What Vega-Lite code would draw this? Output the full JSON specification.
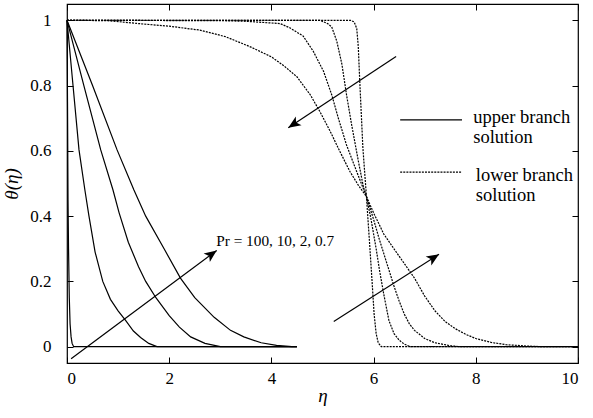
{
  "$schema": "https://vega.github.io/schema/vega-lite/v6.json",
  "width": 511,
  "height": 359,
  "autosize": {"type": "none"},
  "padding": {"left": 67, "top": 4, "right": 15, "bottom": 55},
  "background": "white",
  "config": {
    "view": {"stroke": "black", "strokeWidth": 1.2},
    "font": "Times New Roman, Liberation Serif, Times, serif",
    "axis": {
      "domain": false,
      "grid": false,
      "tickColor": "black",
      "tickSize": -6,
      "tickWidth": 1,
      "labelFont": "Times New Roman, Liberation Serif, Times, serif",
      "labelFontSize": 17,
      "labelColor": "black",
      "titleFont": "Times New Roman, Liberation Serif, Times, serif",
      "titleFontSize": 19,
      "titleFontWeight": "normal",
      "titleFontStyle": "italic",
      "titleColor": "black"
    }
  },
  "datasets": {
    "curves": [
      {"s":"u100","b":"upper","x":0,"y":1},{"s":"u100","b":"upper","x":0.01,"y":0.75},{"s":"u100","b":"upper","x":0.02,"y":0.45},{"s":"u100","b":"upper","x":0.03,"y":0.3},{"s":"u100","b":"upper","x":0.045,"y":0.15},{"s":"u100","b":"upper","x":0.06,"y":0.07},{"s":"u100","b":"upper","x":0.08,"y":0.03},{"s":"u100","b":"upper","x":0.1,"y":0.01},{"s":"u100","b":"upper","x":0.13,"y":0},{"s":"u100","b":"upper","x":4.5,"y":0},
      {"s":"u10","b":"upper","x":0,"y":1},{"s":"u10","b":"upper","x":0.1,"y":0.83},{"s":"u10","b":"upper","x":0.235,"y":0.603},{"s":"u10","b":"upper","x":0.35,"y":0.48},{"s":"u10","b":"upper","x":0.43,"y":0.4},{"s":"u10","b":"upper","x":0.55,"y":0.29},{"s":"u10","b":"upper","x":0.7,"y":0.2},{"s":"u10","b":"upper","x":0.85,"y":0.145},{"s":"u10","b":"upper","x":1.0,"y":0.11},{"s":"u10","b":"upper","x":1.15,"y":0.08},{"s":"u10","b":"upper","x":1.3,"y":0.048},{"s":"u10","b":"upper","x":1.44,"y":0.028},{"s":"u10","b":"upper","x":1.6,"y":0.01},{"s":"u10","b":"upper","x":1.76,"y":0},{"s":"u10","b":"upper","x":4.5,"y":0},
      {"s":"u2","b":"upper","x":0,"y":1},{"s":"u2","b":"upper","x":0.33,"y":0.8},{"s":"u2","b":"upper","x":0.66,"y":0.603},{"s":"u2","b":"upper","x":0.9,"y":0.48},{"s":"u2","b":"upper","x":1.02,"y":0.41},{"s":"u2","b":"upper","x":1.2,"y":0.32},{"s":"u2","b":"upper","x":1.4,"y":0.245},{"s":"u2","b":"upper","x":1.54,"y":0.2},{"s":"u2","b":"upper","x":1.74,"y":0.15},{"s":"u2","b":"upper","x":2.0,"y":0.095},{"s":"u2","b":"upper","x":2.2,"y":0.06},{"s":"u2","b":"upper","x":2.42,"y":0.03},{"s":"u2","b":"upper","x":2.7,"y":0.01},{"s":"u2","b":"upper","x":3.0,"y":0},{"s":"u2","b":"upper","x":4.5,"y":0},
      {"s":"u07","b":"upper","x":0,"y":1},{"s":"u07","b":"upper","x":0.5,"y":0.8},{"s":"u07","b":"upper","x":0.98,"y":0.603},{"s":"u07","b":"upper","x":1.31,"y":0.48},{"s":"u07","b":"upper","x":1.54,"y":0.4},{"s":"u07","b":"upper","x":1.9,"y":0.3},{"s":"u07","b":"upper","x":2.22,"y":0.21},{"s":"u07","b":"upper","x":2.5,"y":0.15},{"s":"u07","b":"upper","x":2.88,"y":0.09},{"s":"u07","b":"upper","x":3.2,"y":0.05},{"s":"u07","b":"upper","x":3.46,"y":0.03},{"s":"u07","b":"upper","x":3.8,"y":0.012},{"s":"u07","b":"upper","x":4.1,"y":0.004},{"s":"u07","b":"upper","x":4.4,"y":0},{"s":"u07","b":"upper","x":4.5,"y":0},
      {"s":"l100","b":"lower","x":0,"y":1},{"s":"l100","b":"lower","x":5.55,"y":1},{"s":"l100","b":"lower","x":5.62,"y":0.995},{"s":"l100","b":"lower","x":5.67,"y":0.975},{"s":"l100","b":"lower","x":5.7,"y":0.92},{"s":"l100","b":"lower","x":5.73,"y":0.81},{"s":"l100","b":"lower","x":5.79,"y":0.61},{"s":"l100","b":"lower","x":5.86,"y":0.46},{"s":"l100","b":"lower","x":5.92,"y":0.32},{"s":"l100","b":"lower","x":5.97,"y":0.2},{"s":"l100","b":"lower","x":6.01,"y":0.1},{"s":"l100","b":"lower","x":6.05,"y":0.04},{"s":"l100","b":"lower","x":6.09,"y":0.012},{"s":"l100","b":"lower","x":6.15,"y":0},{"s":"l100","b":"lower","x":10,"y":0},
      {"s":"l10","b":"lower","x":0,"y":1},{"s":"l10","b":"lower","x":4.95,"y":1},{"s":"l10","b":"lower","x":5.1,"y":0.99},{"s":"l10","b":"lower","x":5.18,"y":0.98},{"s":"l10","b":"lower","x":5.28,"y":0.936},{"s":"l10","b":"lower","x":5.38,"y":0.865},{"s":"l10","b":"lower","x":5.47,"y":0.772},{"s":"l10","b":"lower","x":5.57,"y":0.68},{"s":"l10","b":"lower","x":5.7,"y":0.57},{"s":"l10","b":"lower","x":5.8,"y":0.49},{"s":"l10","b":"lower","x":5.86,"y":0.46},{"s":"l10","b":"lower","x":5.95,"y":0.39},{"s":"l10","b":"lower","x":6.05,"y":0.3},{"s":"l10","b":"lower","x":6.12,"y":0.23},{"s":"l10","b":"lower","x":6.2,"y":0.16},{"s":"l10","b":"lower","x":6.3,"y":0.08},{"s":"l10","b":"lower","x":6.4,"y":0.04},{"s":"l10","b":"lower","x":6.5,"y":0.02},{"s":"l10","b":"lower","x":6.6,"y":0.008},{"s":"l10","b":"lower","x":6.72,"y":0},{"s":"l10","b":"lower","x":10,"y":0},
      {"s":"l2","b":"lower","x":0,"y":1},{"s":"l2","b":"lower","x":3.0,"y":0.999},{"s":"l2","b":"lower","x":3.5,"y":0.997},{"s":"l2","b":"lower","x":4.17,"y":0.99},{"s":"l2","b":"lower","x":4.36,"y":0.977},{"s":"l2","b":"lower","x":4.62,"y":0.952},{"s":"l2","b":"lower","x":4.82,"y":0.905},{"s":"l2","b":"lower","x":5.02,"y":0.844},{"s":"l2","b":"lower","x":5.18,"y":0.772},{"s":"l2","b":"lower","x":5.31,"y":0.7},{"s":"l2","b":"lower","x":5.47,"y":0.618},{"s":"l2","b":"lower","x":5.67,"y":0.536},{"s":"l2","b":"lower","x":5.86,"y":0.46},{"s":"l2","b":"lower","x":6.0,"y":0.39},{"s":"l2","b":"lower","x":6.1,"y":0.335},{"s":"l2","b":"lower","x":6.2,"y":0.285},{"s":"l2","b":"lower","x":6.3,"y":0.235},{"s":"l2","b":"lower","x":6.4,"y":0.185},{"s":"l2","b":"lower","x":6.5,"y":0.14},{"s":"l2","b":"lower","x":6.6,"y":0.1},{"s":"l2","b":"lower","x":6.7,"y":0.07},{"s":"l2","b":"lower","x":6.8,"y":0.05},{"s":"l2","b":"lower","x":7.0,"y":0.025},{"s":"l2","b":"lower","x":7.2,"y":0.012},{"s":"l2","b":"lower","x":7.5,"y":0.003},{"s":"l2","b":"lower","x":7.7,"y":0},{"s":"l2","b":"lower","x":10,"y":0},
      {"s":"l07","b":"lower","x":0,"y":1},{"s":"l07","b":"lower","x":0.8,"y":0.999},{"s":"l07","b":"lower","x":1.4,"y":0.99},{"s":"l07","b":"lower","x":2.0,"y":0.982},{"s":"l07","b":"lower","x":2.6,"y":0.97},{"s":"l07","b":"lower","x":3.1,"y":0.95},{"s":"l07","b":"lower","x":3.6,"y":0.918},{"s":"l07","b":"lower","x":4.0,"y":0.888},{"s":"l07","b":"lower","x":4.25,"y":0.86},{"s":"l07","b":"lower","x":4.5,"y":0.827},{"s":"l07","b":"lower","x":4.76,"y":0.772},{"s":"l07","b":"lower","x":4.95,"y":0.72},{"s":"l07","b":"lower","x":5.15,"y":0.66},{"s":"l07","b":"lower","x":5.34,"y":0.598},{"s":"l07","b":"lower","x":5.54,"y":0.536},{"s":"l07","b":"lower","x":5.7,"y":0.495},{"s":"l07","b":"lower","x":5.86,"y":0.46},{"s":"l07","b":"lower","x":6.0,"y":0.41},{"s":"l07","b":"lower","x":6.2,"y":0.345},{"s":"l07","b":"lower","x":6.42,"y":0.295},{"s":"l07","b":"lower","x":6.6,"y":0.255},{"s":"l07","b":"lower","x":6.8,"y":0.21},{"s":"l07","b":"lower","x":7.0,"y":0.155},{"s":"l07","b":"lower","x":7.2,"y":0.11},{"s":"l07","b":"lower","x":7.4,"y":0.077},{"s":"l07","b":"lower","x":7.6,"y":0.055},{"s":"l07","b":"lower","x":7.8,"y":0.038},{"s":"l07","b":"lower","x":8.0,"y":0.025},{"s":"l07","b":"lower","x":8.3,"y":0.013},{"s":"l07","b":"lower","x":8.6,"y":0.006},{"s":"l07","b":"lower","x":9.0,"y":0.002},{"s":"l07","b":"lower","x":9.3,"y":0},{"s":"l07","b":"lower","x":10,"y":0}
    ],
    "arrows": [
      {"x":0.08,"y":-0.037,"x2":2.93,"y2":0.295,"a":53.5},
      {"x":6.44,"y":0.889,"x2":4.33,"y2":0.671,"a":236.7},
      {"x":5.22,"y":0.077,"x2":7.28,"y2":0.283,"a":57.5}
    ],
    "legendLines": [
      {"x":6.52,"x2":7.73,"y":0.695,"b":"upper"},
      {"x":6.52,"x2":7.73,"y":0.535,"b":"lower"}
    ],
    "labels": [
      {"x":7.95,"y":0.705,"t":"upper branch","k":"legend"},
      {"x":7.95,"y":0.643,"t":"solution","k":"legend"},
      {"x":8.0,"y":0.526,"t":"lower branch","k":"legend"},
      {"x":8.0,"y":0.465,"t":"solution","k":"legend"},
      {"x":2.92,"y":0.323,"t":"Pr = 100, 10, 2, 0.7","k":"note"}
    ]
  },
  "layer": [
    {
      "data": {"name": "curves"},
      "transform": [{"filter": "datum.b === 'upper'"}],
      "mark": {"type": "line", "color": "black", "strokeWidth": 1.2},
      "encoding": {
        "x": {"field": "x", "type": "quantitative", "scale": {"domain": [0, 10], "nice": false, "zero": false},
              "axis": {"orient": "bottom", "values": [0, 2, 4, 6, 8, 10], "title": "η", "labelPadding": 13, "titlePadding": 0}},
        "y": {"field": "y", "type": "quantitative", "scale": {"domain": [-0.05, 1.05], "nice": false, "zero": false},
              "axis": {"orient": "left", "values": [0, 0.2, 0.4, 0.6, 0.8, 1], "format": "~g", "title": "θ(η)", "labelPadding": 22, "titlePadding": 8}},
        "detail": {"field": "s"}
      }
    },
    {
      "data": {"name": "curves"},
      "transform": [{"filter": "datum.b === 'lower'"}],
      "mark": {"type": "line", "color": "black", "strokeWidth": 1.2, "strokeDash": [2, 1.1]},
      "encoding": {
        "x": {"field": "x", "type": "quantitative", "scale": {"domain": [0, 10], "nice": false, "zero": false},
              "axis": {"orient": "top", "values": [0, 2, 4, 6, 8, 10], "labels": false, "title": null}},
        "y": {"field": "y", "type": "quantitative", "scale": {"domain": [-0.05, 1.05], "nice": false, "zero": false},
              "axis": {"orient": "right", "values": [0, 0.2, 0.4, 0.6, 0.8, 1], "labels": false, "title": null}},
        "detail": {"field": "s"}
      }
    },
    {
      "data": {"name": "arrows"},
      "mark": {"type": "rule", "color": "black", "strokeWidth": 1.2},
      "encoding": {
        "x": {"field": "x", "type": "quantitative", "scale": {"domain": [0, 10], "nice": false, "zero": false}, "axis": null},
        "y": {"field": "y", "type": "quantitative", "scale": {"domain": [-0.05, 1.05], "nice": false, "zero": false}, "axis": null},
        "x2": {"field": "x2"},
        "y2": {"field": "y2"}
      }
    },
    {
      "data": {"name": "arrows"},
      "mark": {"type": "point", "filled": true, "color": "black", "opacity": 1, "size": 620,
               "shape": "M0,0 L0.42,1 L0,0.75 L-0.42,1 Z"},
      "encoding": {
        "x": {"field": "x2", "type": "quantitative", "scale": {"domain": [0, 10], "nice": false, "zero": false}, "axis": null},
        "y": {"field": "y2", "type": "quantitative", "scale": {"domain": [-0.05, 1.05], "nice": false, "zero": false}, "axis": null},
        "angle": {"field": "a", "type": "quantitative", "scale": null}
      }
    },
    {
      "data": {"name": "legendLines"},
      "mark": {"type": "rule", "color": "black", "strokeWidth": 1.2},
      "encoding": {
        "x": {"field": "x", "type": "quantitative", "scale": {"domain": [0, 10], "nice": false, "zero": false}, "axis": null},
        "y": {"field": "y", "type": "quantitative", "scale": {"domain": [-0.05, 1.05], "nice": false, "zero": false}, "axis": null},
        "x2": {"field": "x2"},
        "strokeDash": {"field": "b", "type": "nominal", "scale": {"domain": ["upper", "lower"], "range": [[1, 0], [2, 1.1]]}, "legend": null}
      }
    },
    {
      "data": {"name": "labels"},
      "mark": {"type": "text", "align": "left", "baseline": "middle", "font": "Times New Roman, Liberation Serif, Times, serif", "color": "black"},
      "encoding": {
        "x": {"field": "x", "type": "quantitative", "scale": {"domain": [0, 10], "nice": false, "zero": false}, "axis": null},
        "y": {"field": "y", "type": "quantitative", "scale": {"domain": [-0.05, 1.05], "nice": false, "zero": false}, "axis": null},
        "text": {"field": "t"},
        "size": {"field": "k", "type": "nominal", "scale": {"domain": ["legend", "note"], "range": [18.5, 15.3]}, "legend": null}
      }
    }
  ],
  "resolve": {"axis": {"x": "independent", "y": "independent"}}
}
